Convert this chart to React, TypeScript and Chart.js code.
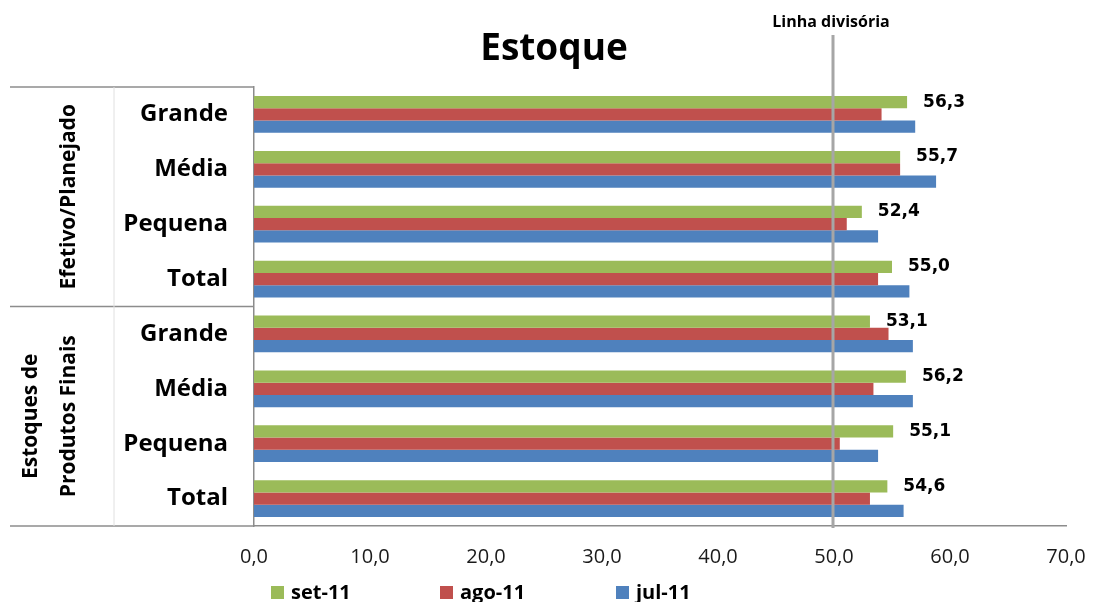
import React, { useEffect, useRef } from 'react';
import { Chart, registerables } from 'chart.js';

Chart.register(...registerables);

// ---------- data ----------
const categories = ['Grande', 'Média', 'Pequena', 'Total', 'Grande', 'Média', 'Pequena', 'Total'];
const groupLabels = [['Efetivo/Planejado'], ['Estoques de', 'Produtos Finais']];
const groupSizes = [4, 4];
const seriesNames = ['set-11', 'ago-11', 'jul-11'];
const set11 = [56.3, 55.7, 52.4, 55.0, 53.1, 56.2, 55.1, 54.6];
const ago11 = [54.1, 55.7, 51.1, 53.8, 54.7, 53.4, 50.5, 53.1];
const jul11 = [57.0, 58.8, 53.8, 56.5, 56.8, 56.8, 53.8, 56.0];
const xMin = 0;
const xMax = 70;
const xStep = 10;
const dividerValue = 50;
const titleText = 'Estoque';
const dividerText = 'Linha divisória';

// ---------- styles ----------
const colors = ['#9BBB59', '#C0504D', '#4F81BD'];
const fmt = (v: number) => v.toFixed(1).replace('.', ',');

const overlayPlugin = {
  id: 'overlay',
  afterDatasetsDraw(chart: any) {
    const ctx: CanvasRenderingContext2D = chart.ctx;
    const { top, bottom, left } = chart.chartArea;
    const xs = chart.scales.x;
    const ys = chart.scales.y;
    ctx.save();

    // divider line
    const dx = xs.getPixelForValue(dividerValue) - 1;
    ctx.strokeStyle = '#A6A6A6';
    ctx.lineWidth = 3;
    ctx.beginPath();
    ctx.moveTo(dx, 35);
    ctx.lineTo(dx, bottom + 2);
    ctx.stroke();

    // data labels for first series
    const meta = chart.getDatasetMeta(0);
    ctx.font = 'bold 17px "DejaVu Sans"';
    ctx.fillStyle = '#000';
    ctx.textAlign = 'left';
    ctx.textBaseline = 'middle';
    meta.data.forEach((bar: any, i: number) => {
      ctx.fillText(fmt(set11[i]), bar.x + 16, bar.y);
    });

    // left table lines
    ctx.strokeStyle = '#8C8C8C';
    ctx.lineWidth = 1.5;
    const lines: number[] = [top];
    let idx = 0;
    groupSizes.forEach((n) => {
      idx += n;
      if (idx < categories.length) {
        lines.push((ys.getPixelForValue(idx - 1) + ys.getPixelForValue(idx)) / 2);
      }
    });
    lines.push(bottom);
    lines.forEach((ly) => {
      ctx.beginPath();
      ctx.moveTo(10, ly);
      ctx.lineTo(left, ly);
      ctx.stroke();
    });
    ctx.strokeStyle = '#E0E0E0';
    ctx.lineWidth = 1;
    ctx.beginPath();
    ctx.moveTo(114, top);
    ctx.lineTo(114, bottom);
    ctx.stroke();

    // group labels (rotated)
    ctx.fillStyle = '#000';
    ctx.font = 'bold 21px "Open Sans"';
    ctx.textAlign = 'center';
    ctx.textBaseline = 'middle';
    for (let g = 0; g < groupLabels.length; g++) {
      const y0 = lines[g];
      const y1 = lines[g + 1];
      const cy = (y0 + y1) / 2;
      const ls = groupLabels[g];
      ls.forEach((t, k) => {
        const cx = 69 - (ls.length - 1 - k) * 38;
        ctx.save();
        ctx.translate(cx, cy);
        ctx.rotate(-Math.PI / 2);
        ctx.fillText(t, 0, 0);
        ctx.restore();
      });
    }
    ctx.restore();
  },
  afterDraw(chart: any) {
    const ctx: CanvasRenderingContext2D = chart.ctx;
    const xs = chart.scales.x;
    ctx.save();
    ctx.fillStyle = '#000';
    ctx.textAlign = 'center';
    ctx.textBaseline = 'alphabetic';
    ctx.font = 'bold 37px "Open Sans"';
    ctx.fillText(titleText, 554, 60);
    ctx.font = 'bold 16px "Open Sans"';
    ctx.fillText(dividerText, xs.getPixelForValue(dividerValue) - 3, 27);

    // legend
    const lx = [271, 440, 616];
    ctx.font = 'bold 20px "Open Sans"';
    ctx.textAlign = 'left';
    ctx.textBaseline = 'middle';
    seriesNames.forEach((name, i) => {
      ctx.fillStyle = colors[i];
      ctx.fillRect(lx[i], 586, 13, 13);
      ctx.fillStyle = '#000';
      ctx.fillText(name, lx[i] + 20, 593);
    });
    ctx.restore();
  },
};

export default function App() {
  const ref = useRef<HTMLCanvasElement | null>(null);
  useEffect(() => {
    document.body.style.margin = '0';
    if (!ref.current) return;
    const chart = new Chart(ref.current, {
      type: 'bar',
      data: {
        labels: categories,
        datasets: [
          { label: seriesNames[0], data: set11, backgroundColor: colors[0] },
          { label: seriesNames[1], data: ago11, backgroundColor: colors[1] },
          { label: seriesNames[2], data: jul11, backgroundColor: colors[2] },
        ],
      },
      options: {
        indexAxis: 'y',
        responsive: false,
        animation: false,
        events: [],
        layout: { padding: { top: 87, right: 27, bottom: 0, left: 0 } },
        datasets: { bar: { categoryPercentage: 0.67, barPercentage: 1.0, borderWidth: 0 } },
        plugins: { legend: { display: false }, tooltip: { enabled: false }, title: { display: false } },
        scales: {
          x: {
            type: 'linear',
            min: xMin,
            max: xMax,
            ticks: {
              stepSize: xStep,
              padding: 19,
              color: '#1a1a1a',
              font: { family: 'Open Sans', size: 20 },
              callback: (v: any) => fmt(Number(v)),
            },
            grid: { display: false, drawTicks: false },
            border: { display: true, color: '#8C8C8C', width: 1.5 },
            afterFit: (s: any) => { s.height = 76; s.paddingLeft = 0; s.paddingRight = 0; },
          },
          y: {
            type: 'category',
            ticks: {
              padding: 26,
              color: '#000',
              font: { family: 'Open Sans', size: 24, weight: 'bold' },
              autoSkip: false,
            },
            grid: { display: false, drawTicks: false },
            border: { display: true, color: '#8C8C8C', width: 1.5 },
            afterFit: (s: any) => { s.width = 254; s.paddingTop = 0; s.paddingBottom = 0; },
          },
        },
      },
      plugins: [overlayPlugin],
    } as any);
    return () => chart.destroy();
  }, []);
  return (
    <div style={{ width: 1093, height: 602 }}>
      <canvas ref={ref} width={1093} height={602} />
    </div>
  );
}
